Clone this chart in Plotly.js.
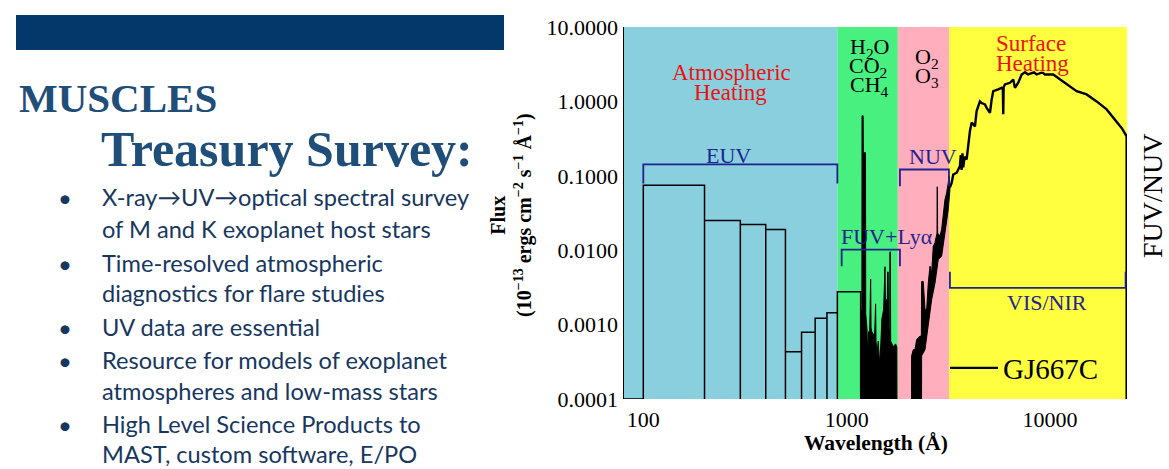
<!DOCTYPE html>
<html><head><meta charset="utf-8">
<script src="https://cdn.plot.ly/plotly-3.0.1.min.js"></script>
<style>html,body{margin:0;padding:0;background:#fff;}#chart{width:1169px;height:469px;}</style>
</head><body><div id="chart"></div>
<script>
// ---------- data ----------
// EUV bins (Angstrom edges) and binned flux (1e-13 erg cm-2 s-1 A-1)
const euvEdges = [100, 200, 300, 400, 500, 600, 700, 800, 900, 1172];
const euvFlux  = [0.0748, 0.0251, 0.0221, 0.019, 0.00043, 0.00079, 0.00122, 0.00144, 0.00276];

// FUV spectrum, upper envelope of the noisy black region
const fuvWave = [1172, 1188, 1190, 1205, 1208, 1238, 1241, 1258, 1270, 1280, 1298, 1304, 1312, 1318, 1330, 1372, 1380, 1388, 1394, 1410, 1430, 1450, 1470, 1490, 1520, 1532, 1543, 1550, 1585, 1590, 1600, 1607, 1628, 1632, 1640, 1646, 1700, 1740, 1765, 1770];
const fuvFlux = [0.0014, 0.0016, 0.64, 0.64, 0.204, 0.204, 0.0014, 0.0009, 0.00035, 0.0008, 0.0008, 0.0041, 0.0041, 0.0009, 0.0008, 0.0007, 0.0019, 0.0019, 0.0006, 0.0004, 0.0006, 0.0003, 0.0005, 0.0012, 0.0016, 0.006, 0.006, 0.0021, 0.0022, 0.0051, 0.0051, 0.0009, 0.0008, 0.0095, 0.0095, 0.0006, 0.0005, 0.00055, 0.0005, 0.00001];

// NUV spectrum, upper and lower envelopes of the noisy band
const nuvWave = [2080, 2087, 2126, 2167, 2209, 2293, 2330, 2337, 2380, 2427, 2474, 2519, 2568, 2618, 2666, 2718, 2781, 2786, 2794, 2800, 2876, 2931, 2985, 3043, 3102, 3159, 3195, 3220];
const nuvFlux = [0.00001, 0.00038, 0.00046, 0.00046, 0.00063, 0.0007, 0.0007, 0.0038, 0.0038, 0.0016, 0.0016, 0.0036, 0.0061, 0.005, 0.0113, 0.0126, 0.017, 0.071, 0.071, 0.017, 0.0155, 0.019, 0.0318, 0.048, 0.059, 0.0805, 0.0985, 0.07];
const nuvLowWave = [1172, 2330, 2337, 2427, 2519, 2618, 2718, 2821, 2931, 3043, 3159, 3220];
const nuvLowFlux = [0.00001, 0.00001, 0.00038, 0.00046, 0.00106, 0.00217, 0.0036, 0.0075, 0.0083, 0.0171, 0.035, 0.065];

// Visible / near-IR spectrum
const visWave = [3220, 3283, 3344, 3474, 3606, 3640, 3675, 3710, 3744, 3800, 3890, 3961, 4038, 4120, 4193, 4275, 4356, 4522, 4609, 4786, 4880, 5066, 5164, 5258, 5564, 5781, 5860, 5888, 5915, 6000, 6353, 6595, 6723, 6979, 7253, 7528, 7800, 8121, 8350, 8593, 9000, 9260, 9438, 10368, 11187, 12066, 13515, 15136, 16949, 18982, 20849, 22491, 23810, 23810];
const visFlux = [0.07, 0.0805, 0.104, 0.11, 0.135, 0.19, 0.12, 0.2, 0.13, 0.18, 0.166, 0.278, 0.40, 0.52, 0.49, 0.46, 0.74, 1.0, 0.95, 0.91, 0.82, 0.70, 1.06, 1.37, 1.45, 1.52, 1.5, 0.67, 1.55, 1.69, 1.78, 1.97, 1.52, 1.78, 2.30, 2.47, 2.30, 2.37, 2.45, 2.30, 2.42, 2.42, 2.30, 2.30, 1.97, 1.69, 1.37, 1.24, 1.0, 0.78, 0.57, 0.44, 0.34, 0.00001];

// spectral bands (Angstrom)
const bandNames  = ['EUV band', 'FUV band', 'NUV band', 'VIS band'];
const bandEdges  = [60, 900, 1785, 3185, 30000];
const bandColors = ['#89CFDE', '#48F080', '#FFAEBE', '#FFFF40'];

// range brackets: [lo, hi] in Angstrom, flux of bar and of tips
const brkLabels = ['EUV', 'NUV', 'FUV+Lyα', 'VIS/NIR'];
const brkLo  = [100, 1828, 945, 3220];
const brkHi  = [900, 3184, 1828, 23530];
const brkBar = [0.142, 0.1216, 0.0102, 0.00312];
const brkTip = [0.0789, 0.0724, 0.0061, 0.00513];

const yTickVals = [0.0001, 0.001, 0.01, 0.1, 1, 10];
const yTickText = ['0.0001', '0.0010', '0.0100', '0.1000', '1.0000', '10.0000'];
const xTickVals = [100, 1000, 10000];
const xTickText = ['100', '1000', '10000'];

const bullets = [
  ['X-ray→UV→optical spectral survey', 'of M and K exoplanet host stars'],
  ['Time-resolved atmospheric', 'diagnostics for flare studies'],
  ['UV data are essential'],
  ['Resource for models of exoplanet', 'atmospheres and low-mass stars'],
  ['High Level Science Products to', 'MAST, custom software, E/PO']
];

// ---------- layout helpers ----------
const L = 624, T = 27, W = 503, H = 372;
const XR = [1.9051, 4.3785];
const px = x => (x - L) / W;
const py = y => (T + H - y) / H;
const wl2paper = w => Math.min(1, Math.max(0, (Math.log10(w) - XR[0]) / (XR[1] - XR[0])));
const SERIF = 'Liberation Serif, Times New Roman, serif';
const NAVY = '#1f2391';
const RED = '#ee1111';
const FLOOR = 1e-4;

// EUV step outline
const euvX = [80], euvY = [FLOOR];
for (let i = 0; i < euvFlux.length; i++) {
  euvX.push(euvEdges[i], euvEdges[i], euvEdges[i + 1], euvEdges[i + 1]);
  euvY.push(FLOOR, euvFlux[i], euvFlux[i], FLOOR);
}

// FUV+NUV band polygon: upper envelope forward, lower envelope back
const upX = fuvWave.concat(nuvWave), upY = fuvFlux.concat(nuvFlux);
const polyX = upX.concat(nuvLowWave.slice().reverse());
const polyY = upY.concat(nuvLowFlux.slice().reverse());

const traces = [];
traces.push({x: euvX, y: euvY, mode: 'lines', line: {color: '#000', width: 1.5}, showlegend: false, hoverinfo: 'skip'});
traces.push({x: polyX, y: polyY, mode: 'lines', fill: 'toself', fillcolor: '#000', line: {color: '#000', width: 1}, showlegend: false, hoverinfo: 'skip'});
traces.push({x: visWave, y: visFlux, mode: 'lines', name: 'GJ667C', line: {color: '#000', width: 2.4}, showlegend: true});

// brackets
for (let i = 0; i < brkLo.length; i++) {
  traces.push({x: [brkLo[i], brkLo[i], brkHi[i], brkHi[i]], y: [brkTip[i], brkBar[i], brkBar[i], brkTip[i]],
    mode: 'lines', line: {color: NAVY, width: 1.8}, showlegend: false, hoverinfo: 'skip', name: brkLabels[i]});
}

const shapes = [];
for (let i = 0; i < bandColors.length; i++) {
  shapes.push({type: 'rect', xref: 'paper', yref: 'paper', x0: wl2paper(bandEdges[i]), x1: wl2paper(bandEdges[i + 1]),
    y0: 0, y1: 1, fillcolor: bandColors[i], line: {width: 0}, layer: 'below', name: bandNames[i]});
}
// slide header bar
shapes.push({type: 'rect', xref: 'paper', yref: 'paper', x0: px(16), x1: px(504), y0: py(50), y1: py(15),
  fillcolor: '#04386b', line: {width: 0}});

const ann = [];
function A(text, x, y, size, color, opts) {
  ann.push(Object.assign({text: text, x: px(x), y: py(y), xref: 'paper', yref: 'paper', showarrow: false,
    xanchor: 'center', yanchor: 'middle', font: {family: SERIF, size: size, color: color}}, opts || {}));
}
A('Atmospheric', 731.7, 72.8, 23, RED);
A('Heating', 730, 92.5, 23, RED);
A(brkLabels[0], 728.3, 155.5, 22, NAVY);
A('H<sub>2</sub>O', 869, 48, 22, '#000');
A('CO<sub>2</sub>', 868, 66.5, 22, '#000');
A('CH<sub>4</sub>', 869, 86.5, 22, '#000');
A('O<sub>2</sub>', 926.5, 58, 22, '#000');
A('O<sub>3</sub>', 926.5, 76.5, 22, '#000');
A('Surface', 1031.3, 43.3, 23, RED);
A('Heating', 1032, 63, 23, RED);
A(brkLabels[1], 932.5, 156, 22, NAVY);
A(brkLabels[2], 887, 236.5, 22, NAVY);
A(brkLabels[3], 1046.7, 302, 22, NAVY);
A('FUV/NUV', 1152, 196, 28, '#000', {textangle: -90});
A('<b>Wavelength (Å)</b>', 875.5, 443, 21.5, '#000');
A('<b>Flux</b><br><b>(10<sup>−13</sup> ergs cm<sup>−2</sup> s<sup>−1</sup> Å<sup>−1</sup>)</b>', 511, 215, 20, '#000', {textangle: -90});

// slide text
const TITLE = '#1f4e79', BODY = '#17375e', SANS = 'Lato, Open Sans, sans-serif';
A('<b>MUSCLES</b>', 17, 98, 41, TITLE, {xanchor: 'left', font: {family: 'Liberation Serif, serif', size: 41, color: TITLE}});
A('<b>Treasury Survey:</b>', 99, 149, 50, TITLE, {xanchor: 'left', font: {family: 'Liberation Serif, serif', size: 50, color: TITLE}});
const lineY = [[197, 229], [263, 293], [327], [360, 391], [424, 454]];
for (let b = 0; b < bullets.length; b++) {
  A('•', 65, lineY[b][0], 24, BODY, {font: {family: SANS, size: 24, color: BODY}});
  for (let k = 0; k < bullets[b].length; k++) {
    A(bullets[b][k], 100, lineY[b][k], 23.6, BODY, {xanchor: 'left', font: {family: SANS, size: 23.6, color: BODY}});
  }
}

const layout = {
  width: 1169, height: 469,
  margin: {l: L, r: 1169 - L - W, t: T, b: 469 - T - H},
  paper_bgcolor: '#fff', plot_bgcolor: '#fff',
  xaxis: {type: 'log', range: XR, tickmode: 'array', tickvals: xTickVals, ticktext: xTickText,
    showgrid: false, zeroline: false, showline: false, ticks: 'outside', ticklen: 1, tickcolor: 'rgba(0,0,0,0)',
    tickfont: {family: SERIF, size: 22, color: '#000'}},
  yaxis: {type: 'log', range: [-4, 1], tickmode: 'array', tickvals: yTickVals, ticktext: yTickText,
    showgrid: false, zeroline: false, showline: true, linecolor: '#000', linewidth: 1.5,
    ticks: '',
    tickfont: {family: SERIF, size: 22, color: '#000'}},
  shapes: shapes,
  annotations: ann,
  showlegend: true,
  legend: {x: px(945), y: py(368), xanchor: 'left', yanchor: 'middle', bgcolor: 'rgba(0,0,0,0)',
    itemwidth: 48, font: {family: SERIF, size: 29, color: '#000'}}
};

Plotly.newPlot('chart', traces, layout, {displayModeBar: false, staticPlot: true});
</script></body></html>
